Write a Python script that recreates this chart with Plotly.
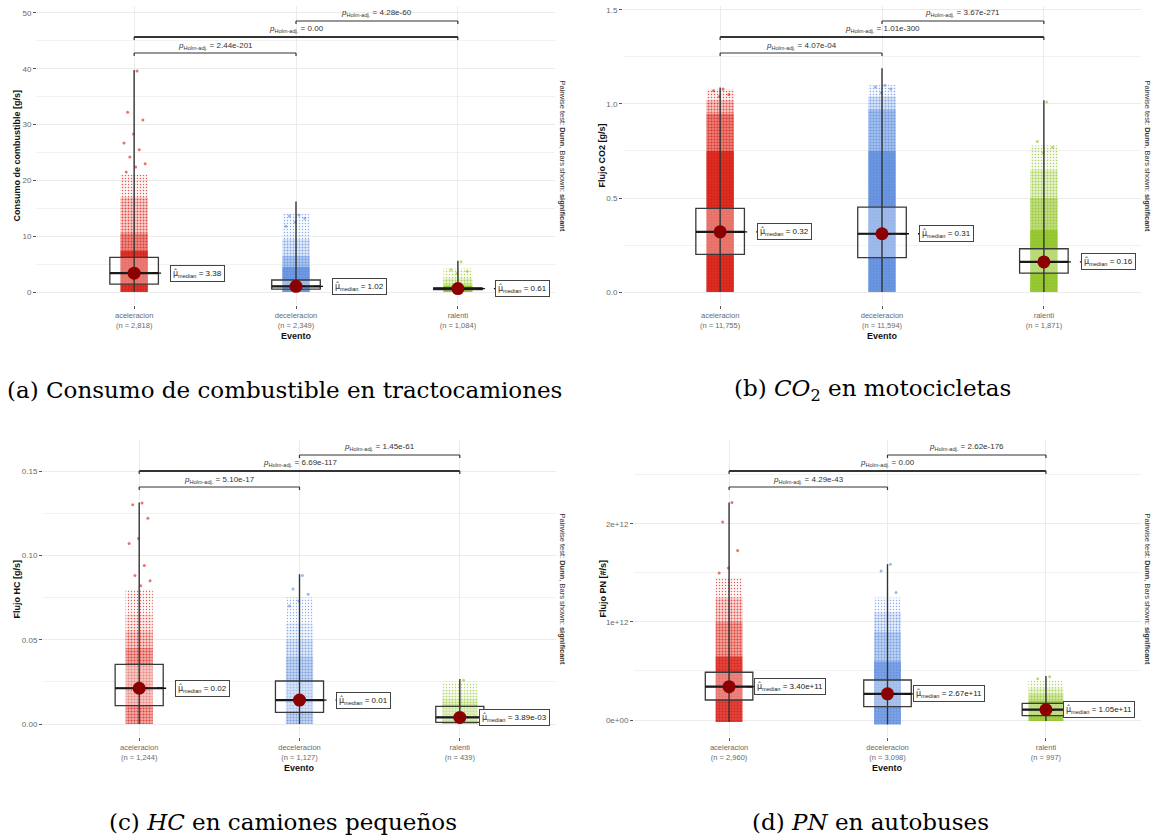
import plotly.graph_objects as go

W, H = 1151, 839
SANS = "Liberation Sans, Arial, sans-serif"
SERIF = "DejaVu Serif, Liberation Serif, serif"

categories = ["aceleracion", "deceleracion", "ralenti"]
group_rgb = [(216, 23, 11), (91, 139, 221), (141, 194, 31)]

# ---------------- (a) fuel consumption, tractor trucks ----------------
a_n = [2818, 2349, 1084]
a_min = [0.0, 0.0, 0.0]
a_q1 = [1.4, 0.5, 0.45]
a_median = [3.38, 1.02, 0.61]
a_q3 = [6.2, 2.15, 0.75]
a_max = [39.8, 16.2, 5.6]
a_cloud = [[7.5, 10.5, 17.0, 21.0], [4.5, 6.5, 9.5, 14.0], [1.1, 1.4, 2.5, 4.2]]
a_sparse = [[39.6, 32.2, 30.8, 28.3, 26.7, 25.5, 24.2, 23.0, 22.4, 21.5],
            [13.8, 13.6, 13.2, 12.5, 11.8], [5.4, 4.0, 3.7, 3.3]]
a_median_text = ["3.38", "1.02", "0.61"]
a_pvalues = ["2.44e-201", "0.00", "4.28e-60"]

# ---------------- (b) CO2, motorcycles ----------------
b_n = [11755, 11594, 1871]
b_min = [0.0, 0.0, 0.0]
b_q1 = [0.20, 0.183, 0.10]
b_median = [0.32, 0.31, 0.16]
b_q3 = [0.445, 0.452, 0.23]
b_max = [1.087, 1.19, 1.02]
b_cloud = [[0.75, 0.95, 1.02, 1.08], [0.75, 0.97, 1.04, 1.10], [0.33, 0.50, 0.65, 0.78]]
b_sparse = [[1.08, 1.07, 1.05, 1.04], [1.10, 1.09, 1.08, 1.06], [1.01, 0.80, 0.77, 0.74]]
b_median_text = ["0.32", "0.31", "0.16"]
b_pvalues = ["4.07e-04", "1.01e-300", "3.67e-271"]

# ---------------- (c) HC, small trucks ----------------
c_n = [1244, 1127, 439]
c_min = [0.0, 0.0, 0.0]
c_q1 = [0.0109, 0.0069, 0.0010]
c_median = [0.0212, 0.0142, 0.00389]
c_q3 = [0.0354, 0.0255, 0.0105]
c_max = [0.1313, 0.0888, 0.0267]
c_cloud = [[0.045, 0.055, 0.065, 0.080], [0.040, 0.050, 0.060, 0.075], [0.012, 0.015, 0.020, 0.025]]
c_sparse = [[0.131, 0.130, 0.122, 0.110, 0.107, 0.094, 0.088, 0.085, 0.082],
            [0.088, 0.080, 0.077, 0.073, 0.070], [0.026]]
c_median_text = ["0.02", "0.01", "3.89e-03"]
c_pvalues = ["5.10e-17", "6.69e-117", "1.45e-61"]

# ---------------- (d) PN, buses ----------------
d_n = [2960, 3098, 997]
d_min = [-0.02e12, -0.045e12, -0.01e12]
d_q1 = [0.204e12, 0.136e12, 0.044e12]
d_median = [0.340e12, 0.267e12, 0.105e12]
d_q3 = [0.487e12, 0.408e12, 0.170e12]
d_max = [2.22e12, 1.59e12, 0.45e12]
d_cloud = [[0.65e12, 1.00e12, 1.25e12, 1.45e12], [0.60e12, 0.90e12, 1.10e12, 1.25e12],
           [0.20e12, 0.27e12, 0.33e12, 0.40e12]]
d_sparse = [[2.22e12, 2.02e12, 1.73e12, 1.55e12, 1.50e12], [1.59e12, 1.52e12, 1.30e12],
            [0.44e12, 0.42e12]]
d_median_text = ["3.40e+11", "2.67e+11", "1.05e+11"]
d_pvalues = ["4.29e-43", "0.00", "2.62e-176"]
d_tickvals = [0, 1e12, 2e12]
d_ticktext = ["0e+00", "1e+12", "2e+12"]

pairs = [(1, 2), (1, 3), (2, 3)]


def rgba(rgb, a):
    return f"rgba({rgb[0]},{rgb[1]},{rgb[2]},{a})"


panels = [
    dict(n=a_n, mn=a_min, q1=a_q1, med=a_median, q3=a_q3, mx=a_max, cloud=a_cloud,
         sparse=a_sparse, mtext=a_median_text, pvals=a_pvalues,
         xpx=(37, 555), ypx=(6, 305), yr=(-2.33, 51.25),
         yaxis=dict(tickmode="linear", tick0=0, dtick=10), minor=5,
         ytitle="Consumo de combustible [g/s]", ytx=16, sidex=562,
         cap="(a) Consumo de combustible en tractocamiones", capx=284, capy=390,
         ldx=[0.222, 0.225, 0.23], cw=[0.17, 0.17, 0.18],
         fills=[0.88, 0.5, 0.18, 0.04], sol=[0.3, 0.35, 0.32, 0.18]),
    dict(n=b_n, mn=b_min, q1=b_q1, med=b_median, q3=b_q3, mx=b_max, cloud=b_cloud,
         sparse=b_sparse, mtext=b_median_text, pvals=b_pvalues,
         xpx=(623, 1141), ypx=(6, 305), yr=(-0.069, 1.521),
         yaxis=dict(tickmode="linear", tick0=0, dtick=0.5, tickformat=".1f"), minor=0.25,
         ytitle="Flujo CO2 [g/s]", ytx=601, sidex=1147,
         cap="(b) <i>CO</i><sub>2</sub> en motocicletas", capx=872, capy=390,
         ldx=[0.23, 0.23, 0.23], cw=[0.17, 0.17, 0.17],
         fills=[0.9, 0.55, 0.22, 0.05], sol=[0.3, 0.4, 0.35, 0.2]),
    dict(n=c_n, mn=c_min, q1=c_q1, med=c_median, q3=c_q3, mx=c_max, cloud=c_cloud,
         sparse=c_sparse, mtext=c_median_text, pvals=c_pvalues,
         xpx=(43, 556), ypx=(440, 737), yr=(-0.0077, 0.1684),
         yaxis=dict(tickmode="linear", tick0=0, dtick=0.05, tickformat=".2f"), minor=0.025,
         ytitle="Flujo HC [g/s]", ytx=16, sidex=562,
         cap="(c) <i>HC</i> en camiones pequeños", capx=283, capy=822,
         ldx=[0.225, 0.23, 0.12], cw=[0.17, 0.17, 0.22],
         fills=[0.35, 0.17, 0.07, 0.02], sol=[0.4, 0.34, 0.26, 0.15]),
    dict(n=d_n, mn=d_min, q1=d_q1, med=d_median, q3=d_q3, mx=d_max, cloud=d_cloud,
         sparse=d_sparse, mtext=d_median_text, pvals=d_pvalues,
         xpx=(634, 1141), ypx=(440, 737), yr=(-0.1735e12, 2.857e12),
         yaxis=dict(tickmode="array", tickvals=d_tickvals, ticktext=d_ticktext), minor=0.5e12,
         ytitle="Flujo PN [#/s]", ytx=602, sidex=1147,
         cap="(d) <i>PN</i> en autobuses", capx=870, capy=822,
         ldx=[0.16, 0.16, 0.11], cw=[0.17, 0.17, 0.22],
         fills=[0.8, 0.4, 0.14, 0.03], sol=[0.3, 0.35, 0.3, 0.16]),
]

GRID = "#EBEBEB"
DARK = "#333333"
BOX_W = 0.30
bracket_off = [47, 31, 15]   # px below panel top
label_off = [40, 23, 7]
MU_HAT = '<span style="font-family:DejaVu Sans">μ̂</span>'

fig = go.Figure()
annotations = []
shapes = []
layout_axes = {}

for i, p in enumerate(panels):
    s = "" if i == 0 else str(i + 1)
    xr, yr_ = "x" + s, "y" + s
    xs = [1, 2, 3]

    # jittered point cloud drawn as stacked speckled bands
    for k in range(len(p["fills"])):
        for g in range(3):
            base = p["mn"][g] if k == 0 else p["cloud"][g][k - 1]
            top = p["cloud"][g][k]
            fig.add_trace(go.Bar(
                x=[xs[g]], y=[top - base], base=[base], width=[p["cw"][g]],
                marker=dict(color=rgba(group_rgb[g], p["fills"][k]), line=dict(width=0),
                            pattern=dict(shape=".", fillmode="overlay", size=3,
                                         solidity=p["sol"][k],
                                         fgcolor=rgba(group_rgb[g], 1), fgopacity=0.7)),
                xaxis=xr, yaxis=yr_, showlegend=False, hoverinfo="skip"))
    # sparse individual points
    px_, py_, pc_ = [], [], []
    for g in range(3):
        for j, v in enumerate(p["sparse"][g]):
            off = (((j + 1) * 0.618034) % 1 - 0.5) * p["cw"][g] * 0.9
            px_.append(xs[g] + off)
            py_.append(v)
            pc_.append(rgba(group_rgb[g], 0.6))
    fig.add_trace(go.Scatter(x=px_, y=py_, mode="markers", xaxis=xr, yaxis=yr_,
                             marker=dict(size=3, color=pc_),
                             showlegend=False, hoverinfo="skip"))
    # boxes
    fig.add_trace(go.Box(x=xs, q1=p["q1"], median=p["med"], q3=p["q3"],
                         lowerfence=p["q1"], upperfence=p["q3"], width=BOX_W,
                         fillcolor="rgba(255,255,255,0.35)", line=dict(color="#3A3A3A", width=1.3),
                         whiskerwidth=0, boxpoints=False, xaxis=xr, yaxis=yr_,
                         showlegend=False, hoverinfo="skip"))
    # vertical full-range line
    lx, ly = [], []
    for g in range(3):
        lx += [xs[g], xs[g], None]
        ly += [p["mn"][g], p["mx"][g], None]
    fig.add_trace(go.Scatter(x=lx, y=ly, mode="lines", line=dict(color=DARK, width=1.4),
                             xaxis=xr, yaxis=yr_, showlegend=False, hoverinfo="skip"))
    # thick median lines
    mx_, my_ = [], []
    for g in range(3):
        mx_ += [xs[g] - BOX_W / 2, xs[g] + BOX_W / 2, None]
        my_ += [p["med"][g], p["med"][g], None]
    fig.add_trace(go.Scatter(x=mx_, y=my_, mode="lines", line=dict(color="#1A1A1A", width=2.2),
                             xaxis=xr, yaxis=yr_, showlegend=False, hoverinfo="skip"))
    # dashed connector
    cx_, cy_ = [], []
    for g in range(3):
        cx_ += [xs[g], xs[g] + p["ldx"][g], None]
        cy_ += [p["med"][g], p["med"][g], None]
    fig.add_trace(go.Scatter(x=cx_, y=cy_, mode="lines",
                             line=dict(color="#111111", width=1.3, dash="dash"),
                             xaxis=xr, yaxis=yr_, showlegend=False, hoverinfo="skip"))
    # median points
    fig.add_trace(go.Scatter(x=xs, y=p["med"], mode="markers", xaxis=xr, yaxis=yr_,
                             marker=dict(size=13, color="#8B0000"),
                             showlegend=False, hoverinfo="skip"))
    for g in range(3):
        annotations.append(dict(
            x=xs[g] + p["ldx"][g], y=p["med"][g], xref=xr, yref=yr_, xanchor="left",
            yanchor="middle", showarrow=False,
            text=f"{MU_HAT}<sub>median</sub> = {p['mtext'][g]}",
            font=dict(family=SANS, size=8, color="#222"),
            bgcolor="white", bordercolor="#444", borderwidth=1, borderpad=2))

    # axes
    x0, x1 = p["xpx"]
    y0, y1 = p["ypx"]
    ticktext = [f"{c}<br>(n = {n:,})" for c, n in zip(categories, p["n"])]
    layout_axes["xaxis" + s] = dict(
        domain=[x0 / W, x1 / W], range=[0.4, 3.6], anchor="y" + s,
        tickmode="array", tickvals=xs, ticktext=ticktext,
        showgrid=True, gridcolor=GRID, gridwidth=1, zeroline=False, showline=False,
        ticks="outside", ticklen=3, tickcolor="#555", tickwidth=1,
        tickfont=dict(family=SANS, size=7.5, color="#6A6A6A"))
    ya = dict(domain=[1 - y1 / H, 1 - y0 / H], range=list(p["yr"]), anchor="x" + s,
              showgrid=True, gridcolor=GRID, gridwidth=1, zeroline=False, showline=False,
              ticks="outside", ticklen=3, tickcolor="#555", tickwidth=1,
              tickfont=dict(family=SANS, size=8, color="#6A6A6A"),
              minor=dict(tickmode="linear", tick0=0, dtick=p["minor"], showgrid=True,
                         gridcolor="#F1F1F1", gridwidth=0.8))
    ya.update(p["yaxis"])
    layout_axes["yaxis" + s] = ya

    # significance brackets
    for b, ((g1, g2), pv) in enumerate(zip(pairs, p["pvals"])):
        yb = 1 - (y0 + bracket_off[b]) / H
        yt = 1 - (y0 + bracket_off[b] + 3) / H
        lw = 1.8 if b == 1 else 1.2
        shapes.append(dict(type="line", xref=xr, yref="paper", x0=g1, x1=g2, y0=yb, y1=yb,
                           line=dict(color=DARK, width=lw)))
        for gx in (g1, g2):
            shapes.append(dict(type="line", xref=xr, yref="paper", x0=gx, x1=gx, y0=yb, y1=yt,
                               line=dict(color=DARK, width=1.2)))
        annotations.append(dict(
            x=(g1 + g2) / 2, y=1 - (y0 + label_off[b]) / H, xref=xr, yref="paper",
            xanchor="center", yanchor="middle", showarrow=False,
            text=f"<i>p</i><sub>Holm-adj.</sub> = {pv}",
            font=dict(family=SANS, size=8, color="#333")))

    # side caption (rotated)
    annotations.append(dict(
        x=p["sidex"] / W, y=1 - (y0 + y1) / 2 / H, xref="paper", yref="paper",
        xanchor="center", yanchor="middle", showarrow=False, textangle=90,
        text="Pairwise test: <b>Dunn</b>, Bars shown: <b>significant</b>",
        font=dict(family=SANS, size=7.5, color="#333")))
    # axis titles
    annotations.append(dict(
        x=p["ytx"] / W, y=1 - (y0 + y1) / 2 / H, xref="paper", yref="paper",
        xanchor="center", yanchor="middle", showarrow=False, textangle=-90,
        text=f"<b>{p['ytitle']}</b>", font=dict(family=SANS, size=9, color="#111")))
    annotations.append(dict(
        x=(x0 + x1) / 2 / W, y=1 - (y1 + 31) / H, xref="paper", yref="paper",
        xanchor="center", yanchor="middle", showarrow=False,
        text="<b>Evento</b>", font=dict(family=SANS, size=9, color="#111")))
    # figure caption
    annotations.append(dict(
        x=p["capx"] / W, y=1 - p["capy"] / H, xref="paper", yref="paper",
        xanchor="center", yanchor="middle", showarrow=False,
        text=p["cap"], font=dict(family=SERIF, size=23, color="#000")))

fig.update_layout(
    width=W, height=H, margin=dict(l=0, r=0, t=0, b=0),
    paper_bgcolor="white", plot_bgcolor="white",
    barmode="overlay", boxmode="overlay", showlegend=False,
    annotations=annotations, shapes=shapes, **layout_axes)

fig.write_html("out.html")
